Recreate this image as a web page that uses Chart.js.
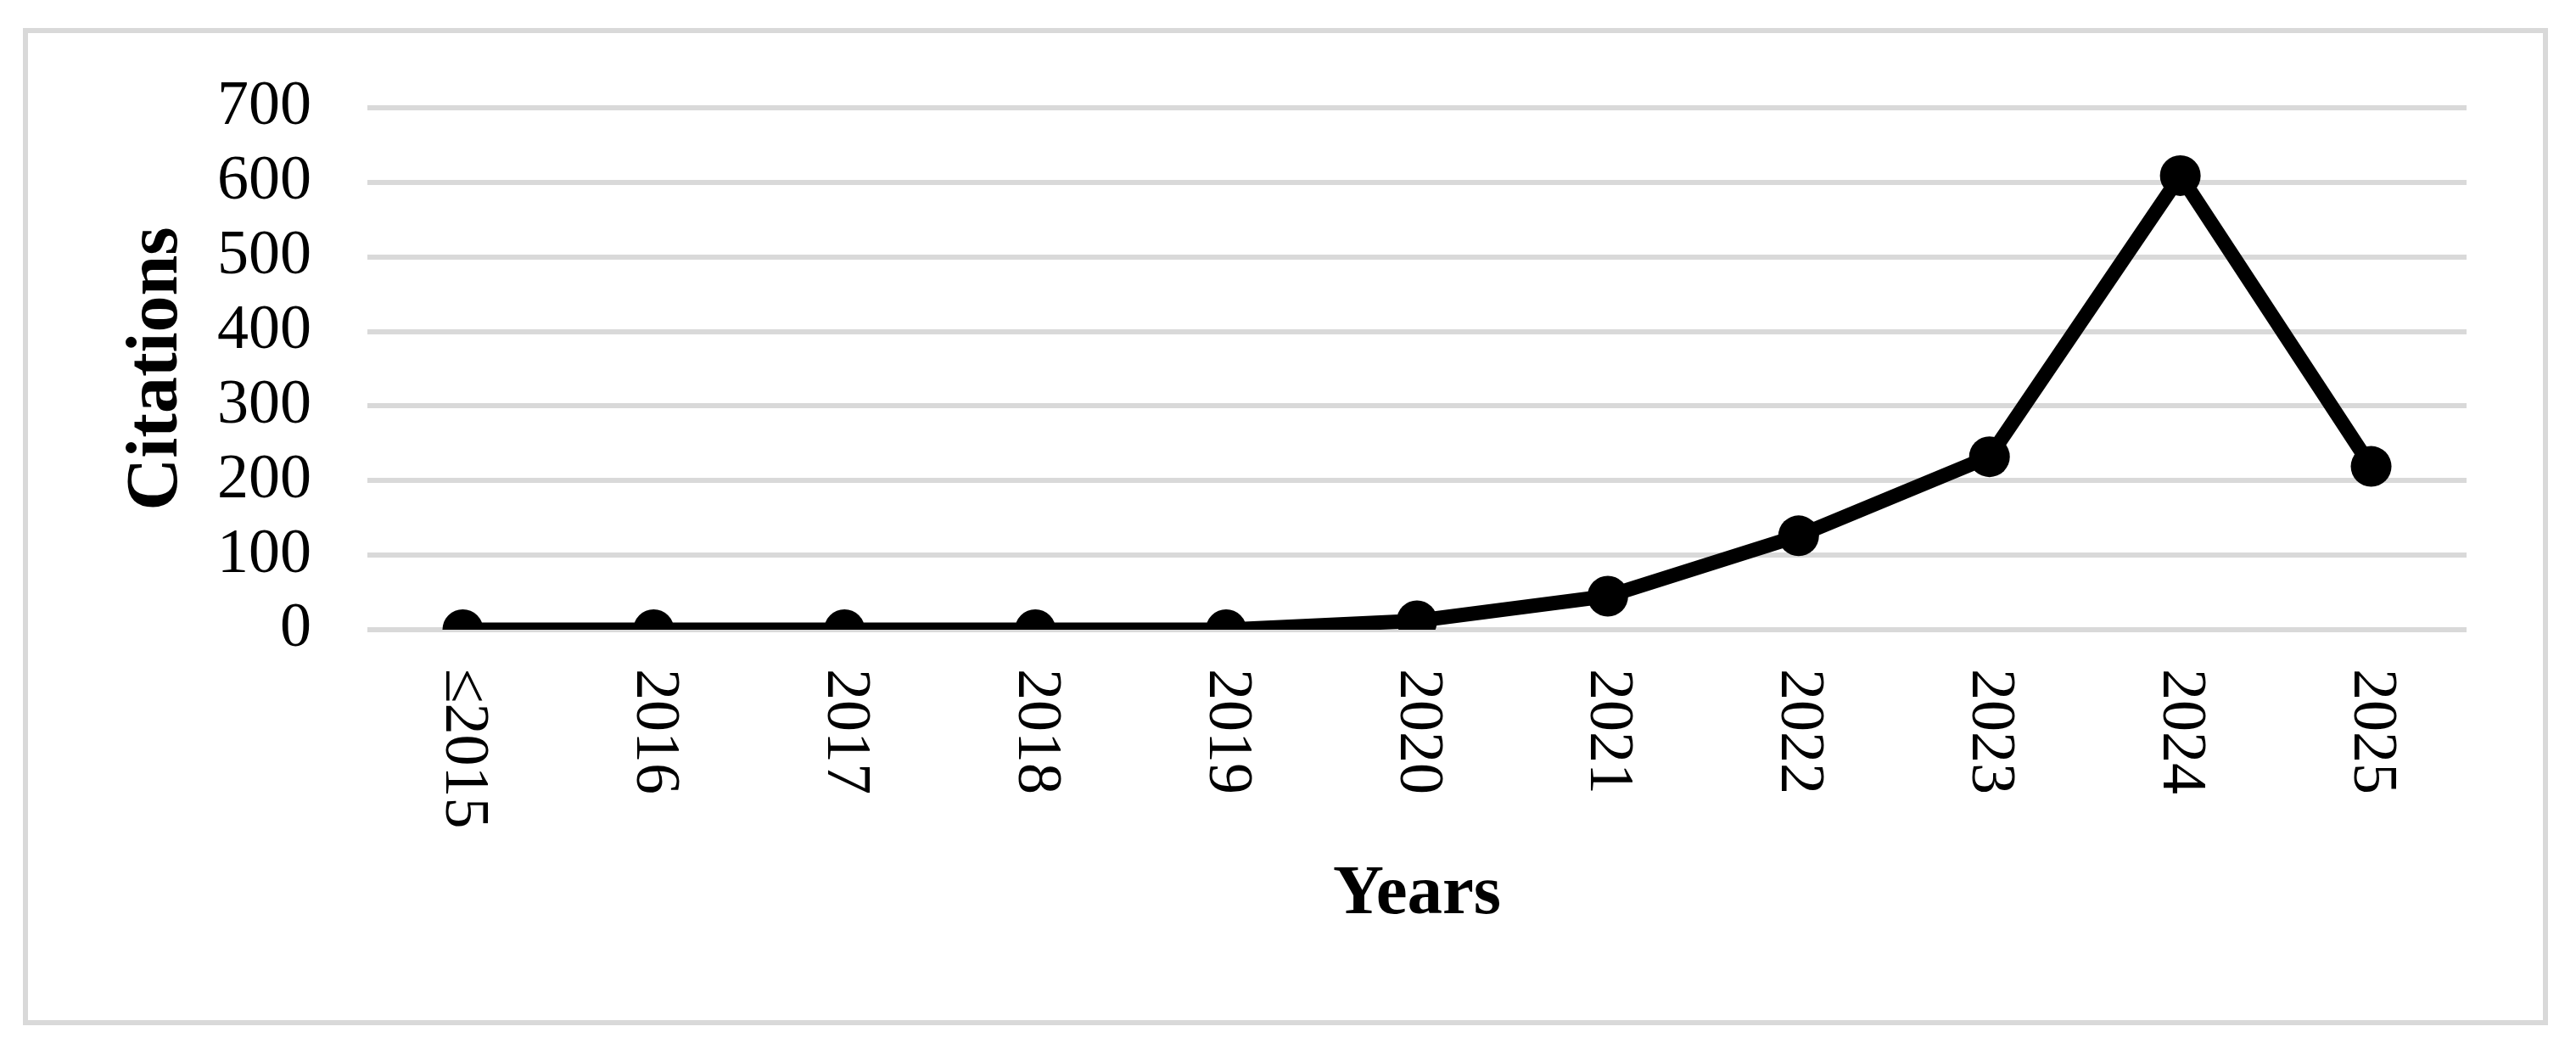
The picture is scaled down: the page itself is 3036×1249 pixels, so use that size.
<!DOCTYPE html>
<html>
<head>
<meta charset="utf-8">
<script src="https://cdn.jsdelivr.net/npm/chart.js@4.4.1/dist/chart.umd.min.js"></script>
<style>
  html, body { margin: 0; padding: 0; background: #fff; overflow: hidden; }
  #wrap { position: relative; width: 3036px; height: 1249px; }
</style>
</head>
<body>
<div id="wrap"><canvas id="chart-citations"></canvas></div>
<script>
const years = ["≤2015", "2016", "2017", "2018", "2019", "2020", "2021", "2022", "2023", "2024", "2025"];
const citations = [0, 0, 0, 0, 0, 12, 45, 126, 232, 609, 219];
const yMin = 0;
const yMax = 700;
const yStep = 100;

Chart.defaults.font.family = "'Liberation Serif', 'Times New Roman', serif";
Chart.defaults.color = "#000";

// gray frame around the figure + x labels that read top-to-bottom
const frameAndLabels = {
  id: "frameAndLabels",
  beforeDraw(chart) {
    const ctx = chart.ctx;
    ctx.save();
    ctx.fillStyle = "#fff";
    ctx.fillRect(0, 0, chart.width, chart.height);
    ctx.strokeStyle = "#d9d9d9";
    ctx.lineWidth = 6;
    ctx.strokeRect(30, 36, 2970, 1169);
    ctx.restore();
  },
  afterDraw(chart) {
    const ctx = chart.ctx;
    const xScale = chart.scales.x;
    ctx.save();
    ctx.font = "74px 'Liberation Serif'";
    ctx.fillStyle = "#000";
    ctx.textAlign = "left";
    ctx.textBaseline = "middle";
    years.forEach((label, i) => {
      ctx.save();
      ctx.translate(xScale.getPixelForTick(i), xScale.top + 46);
      ctx.rotate(Math.PI / 2);
      ctx.fillText(label, 0, 0);
      ctx.restore();
    });
    ctx.restore();
  },
};

const ctx = document.getElementById("chart-citations").getContext("2d");

new Chart(ctx, {
  type: "line",
  plugins: [frameAndLabels],
  data: {
    labels: years,
    datasets: [
      {
        label: "Citations",
        data: citations,
        borderColor: "#000",
        borderWidth: 17,
        tension: 0,
        fill: false,
        pointRadius: 24,
        pointBorderWidth: 0,
        pointBackgroundColor: "#000",
      },
    ],
  },
  options: {
    responsive: true,
    maintainAspectRatio: false,
    animation: false,
    layout: {
      padding: { left: 100, right: 129, top: 127, bottom: 0 },
    },
    plugins: {
      legend: { display: false },
      tooltip: { enabled: false },
    },
    scales: {
      x: {
        offset: true,
        ticks: { display: false },
        grid: { display: false, drawTicks: false },
        border: { display: false },
        title: {
          display: true,
          text: "Years",
          color: "#000",
          font: { size: 83, weight: "bold" },
          padding: { top: 0, bottom: 145 },
        },
        afterFit(scale) {
          scale.height = 507;
        },
      },
      y: {
        min: yMin,
        max: yMax,
        ticks: {
          stepSize: yStep,
          autoSkip: false,
          padding: 66,
          color: "#000",
          font: { size: 74 },
        },
        grid: {
          color: "#d9d9d9",
          lineWidth: 6,
          drawTicks: false,
        },
        border: { display: false },
        title: {
          display: true,
          text: "Citations",
          color: "#000",
          font: { size: 86, weight: "bold" },
          padding: { top: 34, bottom: 0 },
        },
        afterFit(scale) {
          scale.width = 333;
        },
      },
    },
  },
});
</script>
</body>
</html>
